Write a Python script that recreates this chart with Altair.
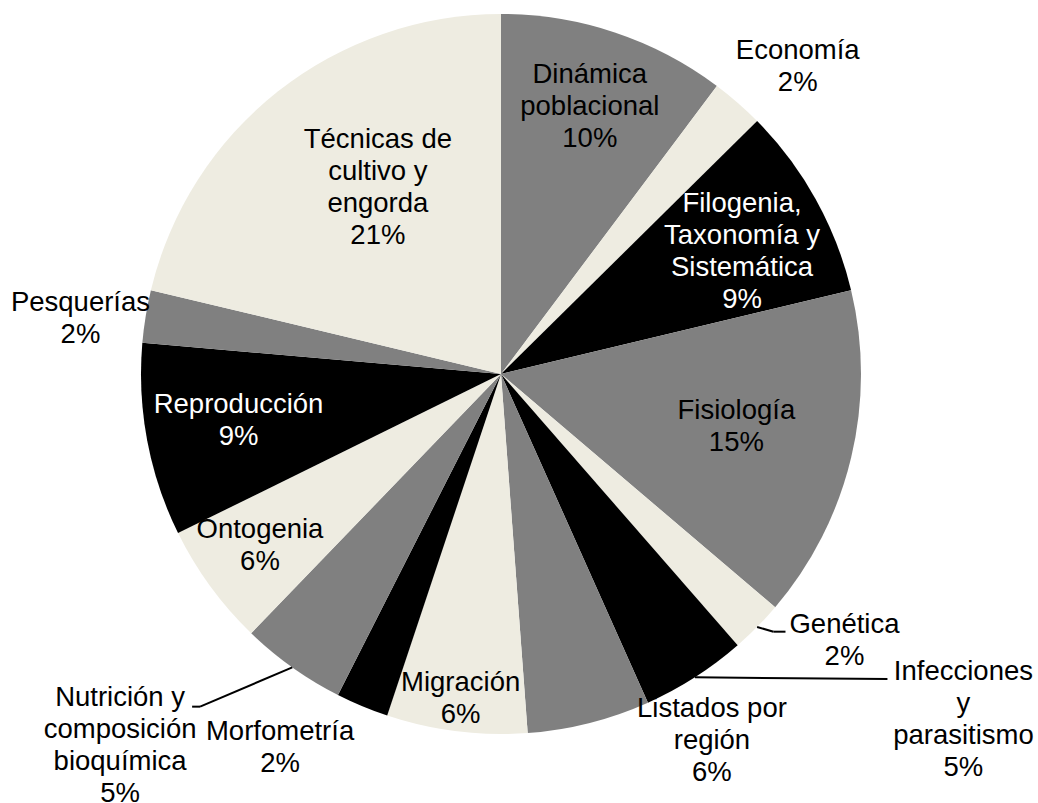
import math
import altair as alt
import pandas as pd

# ---- data ----
categories = [
    "Dinámica poblacional", "Economía", "Filogenia, Taxonomía y Sistemática",
    "Fisiología", "Genética", "Infecciones y parasitismo", "Listados por región",
    "Migración", "Morfometría", "Nutrición y composición bioquímica",
    "Ontogenia", "Reproducción", "Pesquerías", "Técnicas de cultivo y engorda",
]
counts = [13, 3, 11, 19, 3, 6, 7, 8, 3, 6, 7, 11, 3, 27]
label_lines = [
    "Dinámica\npoblacional", "Economía", "Filogenia,\nTaxonomía y\nSistemática",
    "Fisiología", "Genética", "Infecciones\ny\nparasitismo", "Listados por\nregión",
    "Migración", "Morfometría", "Nutrición y\ncomposición\nbioquímica",
    "Ontogenia", "Reproducción", "Pesquerías", "Técnicas de\ncultivo y\nengorda",
]

# ---- styling ----
GRAY, BEIGE, BLACK = "#808080", "#EEECE1", "#000000"
palette = [[GRAY, BEIGE, BLACK][i % 3] for i in range(len(categories))]
CX, CY, R = 501, 374, 360
FONT = "Liberation Sans"
FS = 27.5
LH = 32

df = pd.DataFrame({"cat": categories, "n": counts, "label": label_lines,
                   "idx": list(range(len(categories)))})

theta_scale = alt.Scale(domain=[0, 1], range=[0, 2 * math.pi])

base = (
    alt.Chart(df)
    .transform_joinaggregate(total="sum(n)")
    .transform_window(cum="sum(n)", sort=[alt.SortField("idx")], frame=[None, 0])
    .transform_calculate(
        start="(datum.cum - datum.n) / datum.total",
        end="datum.cum / datum.total",
        mid="(datum.cum - datum.n / 2) / datum.total",
        txt="datum.label + '\\n' + format(datum.n / datum.total, '.0%')",
    )
)

arcs = base.mark_arc(outerRadius=R).encode(
    theta=alt.Theta("start:Q", scale=theta_scale),
    theta2="end:Q",
    color=alt.Color("cat:N", scale=alt.Scale(domain=categories, range=palette), legend=None),
    x=alt.value(CX),
    y=alt.value(CY),
)

# label placement: radius along slice mid-angle, plus small nudges (Excel best-fit style)
label_layout = {
    "Dinámica poblacional": (281, 0, 0, "black"),
    "Economía": (427, 16, 15, "black"),
    "Filogenia, Taxonomía y Sistemática": (270, 5, 9, "white"),
    "Fisiología": (241, 1, -3, "black"),
    "Genética": (435, 34, -39, "black"),
    "Infecciones y parasitismo": (450, 220, -33, "black"),
    "Listados por región": (400, 113, -21, "black"),
    "Migración": (327, 0, 0, "black"),
    "Morfometría": (420, -59, -14, "black"),
    "Nutrición y composición bioquímica": (450, -120, 5, "black"),
    "Ontogenia": (296, -2, -3, "black"),
    "Reproducción": (266, -1, -2, "white"),
    "Pesquerías": (425, -1, 13, "black"),
    "Técnicas de cultivo y engorda": (223, 15, -11, "black"),
}

layers = [arcs]


def pt(r, dx=0, dy=0):
    return (f"{CX} + {r} * sin(2 * PI * datum.mid) + ({dx})",
            f"{CY} - {r} * cos(2 * PI * datum.mid) + ({dy})")


# leader lines: (category, from-point, to-point)
leaders = [
    ("Genética", pt(R), pt(435, -37, -48)),
    ("Genética", pt(435, -37, -48), pt(435, -25, -48)),
    ("Infecciones y parasitismo", pt(R), pt(450, 144, -74)),
    ("Nutrición y composición bioquímica", pt(R), pt(450, -40, -34)),
    ("Nutrición y composición bioquímica", pt(450, -40, -34), pt(450, -48, -34)),
]
for cat, (ax, ay), (bx, by) in leaders:
    layers.append(
        base.transform_filter(alt.datum.cat == cat)
        .transform_calculate(ax=ax, ay=ay, bx=bx, by=by)
        .mark_rule(color="black", strokeWidth=2)
        .encode(
            x=alt.X("ax:Q", scale=None),
            y=alt.Y("ay:Q", scale=None),
            x2="bx:Q",
            y2="by:Q",
        )
    )

for cat, (r, dx, dy, col) in label_layout.items():
    n_lines = label_lines[categories.index(cat)].count("\n") + 2
    dy_block = dy - (n_lines - 1) * LH / 2  # centre the whole text block
    layers.append(
        base.transform_filter(alt.datum.cat == cat)
        .mark_text(radius=r, dx=dx, dy=dy_block, font=FONT, fontSize=FS, lineBreak="\n",
                   lineHeight=LH, align="center", baseline="middle", color=col)
        .encode(
            theta=alt.Theta("mid:Q", scale=theta_scale, stack=False),
            text="txt:N",
            x=alt.value(CX),
            y=alt.value(CY),
        )
    )

chart = (
    alt.layer(*layers)
    .properties(width=1038, height=803, padding=0,
                autosize=alt.AutoSizeParams(type="none"), background="white")
    .configure_view(stroke=None)
)

chart.save("out.html", embed_options={"renderer": "svg", "actions": False})
